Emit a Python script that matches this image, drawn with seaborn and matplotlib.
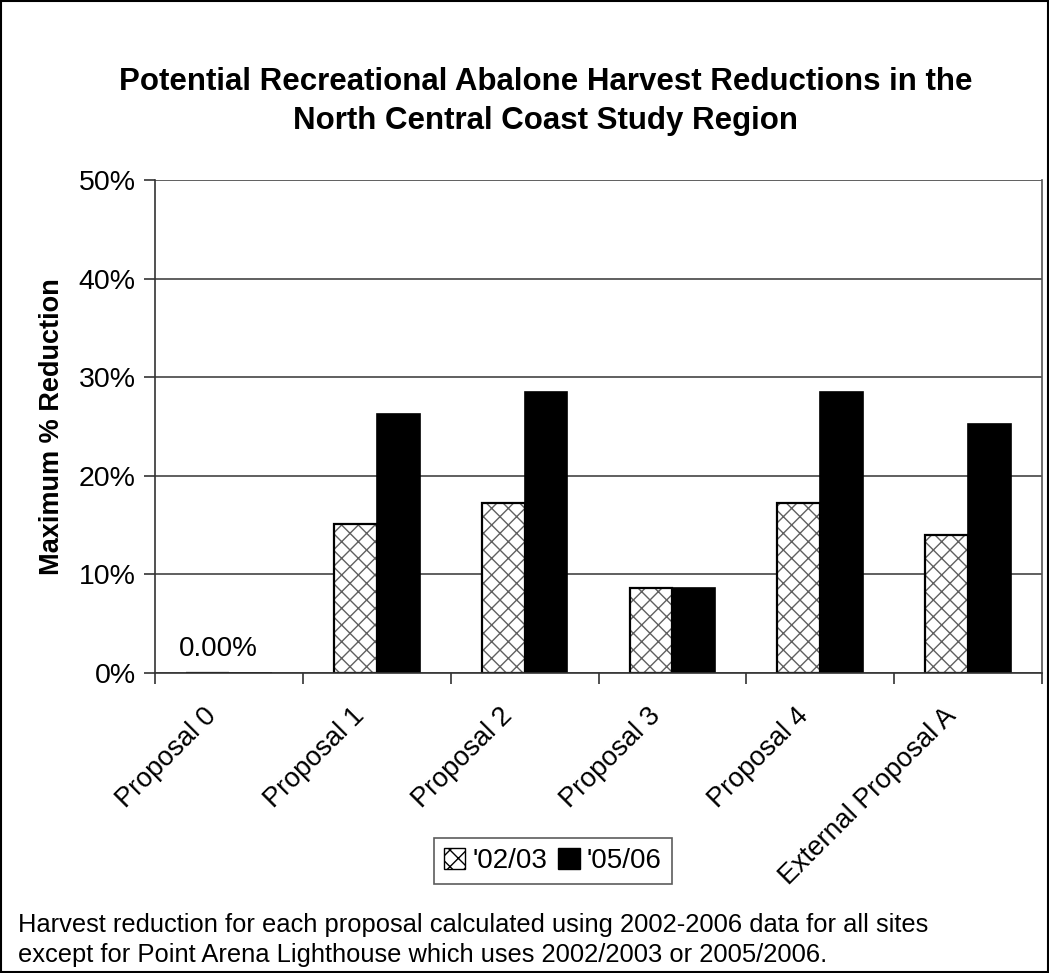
import pandas as pd
import matplotlib
matplotlib.use("Agg")
import matplotlib.pyplot as plt
import matplotlib.transforms as mtransforms
import seaborn as sns
from matplotlib.patches import Rectangle, Patch
from matplotlib.ticker import FixedLocator, PercentFormatter

## Data
proposals = ["Proposal 0", "Proposal 1", "Proposal 2", "Proposal 3", "Proposal 4", "External Proposal A"]
red_0203 = [0.0, 15.1, 17.2, 8.6, 17.2, 14.0]
red_0506 = [0.0, 26.3, 28.5, 8.6, 28.5, 25.3]
periods = ["'02/03", "'05/06"]

df = pd.DataFrame({
    "proposal": proposals * 2,
    "period": [periods[0]] * len(proposals) + [periods[1]] * len(proposals),
    "reduction": red_0203 + red_0506,
})

## Style
sns.set_theme(style="white")
plt.rcParams["font.family"] = ["Liberation Sans", "DejaVu Sans"]
plt.rcParams["text.color"] = "black"
plt.rcParams["axes.labelcolor"] = "black"
plt.rcParams["xtick.color"] = "black"
plt.rcParams["ytick.color"] = "black"
plt.rcParams["hatch.linewidth"] = 1.0

fig = plt.figure(figsize=(10.49, 9.73), dpi=100)
ax = fig.add_axes([0.1478, 0.3083, 0.8455, 0.5067])

sns.barplot(data=df, x="proposal", y="reduction", hue="period",
            palette=["white", "black"], width=0.58, ax=ax,
            edgecolor="black", linewidth=1.2, legend=False)

# hatch the '02/03 bars in grey, then redraw a black outline on top
n = len(proposals)
for p in ax.patches[:n]:
    p.set_hatch("xx")
    p.set_edgecolor("#606060")
    p.set_linewidth(0)
    ax.add_patch(Rectangle(p.get_xy(), p.get_width(), p.get_height(),
                           fill=False, edgecolor="black", linewidth=1.6, zorder=p.get_zorder() + 0.1))

ax.set_ylim(0, 50)
ax.set_xlim(-0.5, n - 0.5)
ax.yaxis.set_major_locator(FixedLocator([0, 10, 20, 30, 40, 50]))
ax.yaxis.set_major_formatter(PercentFormatter(decimals=0))
ax.grid(axis="y", color="#444444", linewidth=1.2)
ax.set_axisbelow(True)

for s in ax.spines.values():
    s.set_color("#555555")
    s.set_linewidth(1.2)
ax.spines["top"].set_visible(False)
ax.spines["left"].set_color("#333333")
ax.spines["bottom"].set_color("#333333")

ax.tick_params(axis="y", which="major", length=8, width=1.2, color="#333333",
               left=True, labelsize=20.5, pad=6)
ax.xaxis.set_minor_locator(FixedLocator([i - 0.5 for i in range(n + 1)]))
ax.tick_params(axis="x", which="minor", length=8, width=1.2, color="#333333", bottom=True)
ax.tick_params(axis="x", which="major", length=0, labelsize=19.5, pad=28)
shift = mtransforms.ScaledTranslation(-16 / 100, 0, fig.dpi_scale_trans)
for lbl in ax.get_xticklabels():
    lbl.set_rotation(45)
    lbl.set_ha("right")
    lbl.set_va("center")
    lbl.set_rotation_mode("anchor")
    lbl.set_transform(lbl.get_transform() + shift)

ax.set_xlabel("")
ax.set_ylabel("Maximum % Reduction", fontsize=19.5, fontweight="bold", labelpad=10)

# data label for Proposal 0
ax.text(-0.07, 1.7, "0.00%", ha="center", va="baseline", fontsize=20)

fig.text(0.52, 0.896, "Potential Recreational Abalone Harvest Reductions in the\nNorth Central Coast Study Region",
         ha="center", va="center", fontsize=22.5, fontweight="bold", linespacing=1.4)

handles = [Patch(facecolor="white", edgecolor="black", hatch="xx", label=periods[0]),
           Patch(facecolor="black", edgecolor="black", label=periods[1])]
leg = fig.legend(handles=handles, loc="center", bbox_to_anchor=(0.527, 0.115), ncol=2,
                 fontsize=20, frameon=True, fancybox=False, handlelength=0.78, handleheight=0.78,
                 handletextpad=0.25, columnspacing=0.4, borderpad=0.35, borderaxespad=0)
leg.get_frame().set_edgecolor("#333333")
leg.get_frame().set_linewidth(1.2)

fig.text(0.017, 0.0335, "Harvest reduction for each proposal calculated using 2002-2006 data for all sites\n"
         "except for Point Arena Lighthouse which uses 2002/2003 or 2005/2006.",
         ha="left", va="center", fontsize=18.4, linespacing=1.32)

fig.patches.append(Rectangle((0.001, 0.001), 0.998, 0.998, transform=fig.transFigure,
                             fill=False, edgecolor="black", linewidth=1.5))

fig.savefig("out.png", dpi=100)
